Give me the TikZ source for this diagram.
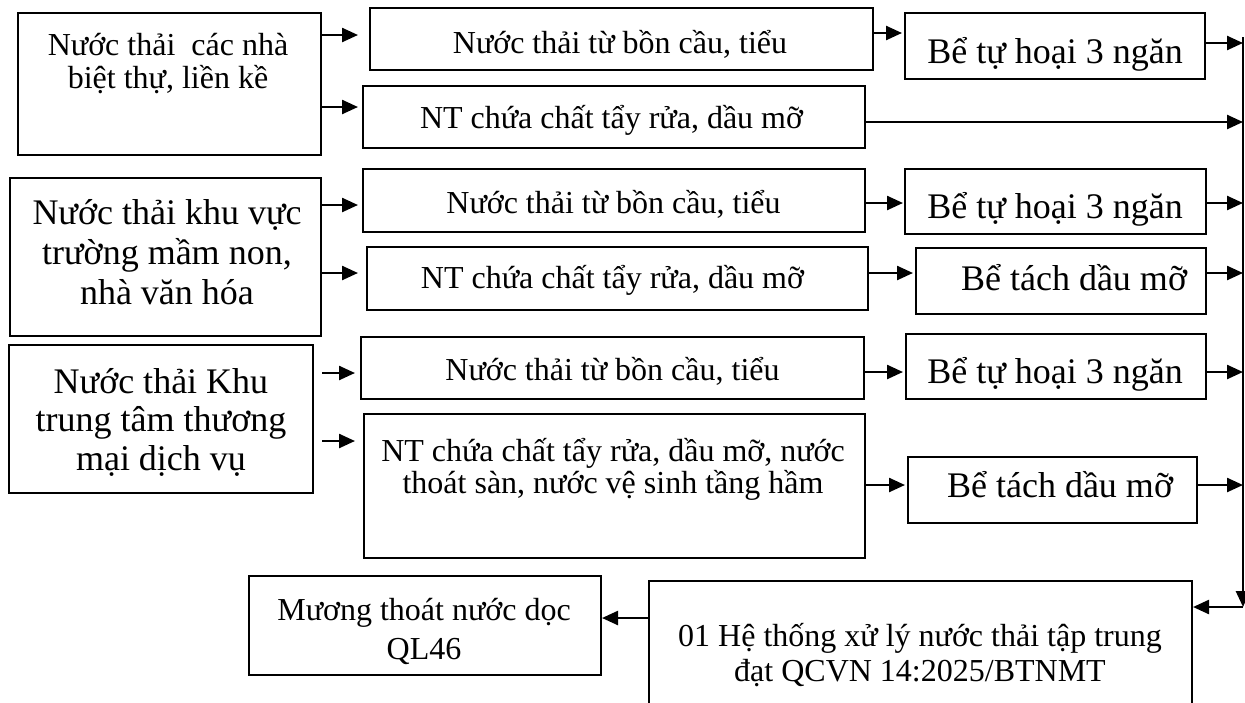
\documentclass[tikz,border=0pt]{standalone}
\usepackage{fontspec}
\setmainfont{Liberation Serif}
\usetikzlibrary{arrows.meta}
\newcommand\fsz[2]{\fontsize{#1}{#2}\selectfont}
\begin{document}
\begin{tikzpicture}[x=0.5pt,y=-0.5pt,
  box/.style={draw, line width=1pt, inner sep=0pt, anchor=north west},
  txt/.style={inner sep=0pt, align=center, anchor=base},
  small/.style={font=\fsz{16}{16.5}},
  big/.style={font=\fsz{18}{20}},
  arr/.style={line width=1.2pt, -{Triangle[length=8pt,width=7pt]}},
  vline/.style={line width=1.4pt}]
\useasboundingbox (0,0) rectangle (1245,702);
% boxes
\node[box, minimum width=151.5pt, minimum height=71pt] (A1) at (17,12) {};
\node[box, minimum width=251.5pt, minimum height=31pt] (B1) at (369,7) {};
\node[box, minimum width=150pt, minimum height=33pt] (T1) at (904,12) {};
\node[box, minimum width=251pt, minimum height=31pt] (B2) at (362,85) {};
\node[box, minimum width=155.5pt, minimum height=79pt] (A2) at (9,177) {};
\node[box, minimum width=251pt, minimum height=31.5pt] (B3) at (362,168) {};
\node[box, minimum width=250.5pt, minimum height=31.5pt] (B4) at (366,246) {};
\node[box, minimum width=150.5pt, minimum height=32.5pt] (T2) at (904,168) {};
\node[box, minimum width=145pt, minimum height=33pt] (S1) at (915,247) {};
\node[box, minimum width=152pt, minimum height=74pt] (A3) at (8,344) {};
\node[box, minimum width=251.5pt, minimum height=31pt] (B5) at (360,336) {};
\node[box, minimum width=250.5pt, minimum height=72pt] (B6) at (363,413) {};
\node[box, minimum width=150pt, minimum height=32.5pt] (T3) at (905,333) {};
\node[box, minimum width=144.5pt, minimum height=33pt] (S2) at (907,456) {};
\node[box, minimum width=176pt, minimum height=49.5pt] (M) at (248,575) {};
\node[box, minimum width=271.5pt, minimum height=75pt] (H) at (648,580) {};
% texts (anchor base = baseline of the last line)
\node[txt, small] (A1t) at (168,88) {Nước thải~ các nhà\\biệt thự, liền kề};
\node[txt, small] (B1t) at (620,53) {Nước thải từ bồn cầu, tiểu};
\node[txt, big] (T1t) at (1055,63) {Bể tự hoại 3 ngăn};
\node[txt, small] (B2t) at (611.5,128) {NT chứa chất tẩy rửa, dầu mỡ};
\node[txt, font=\fsz{18}{20}] (A2t) at (167,304) {Nước thải khu vực\\trường mầm non,\\nhà văn hóa};
\node[txt, small] (B3t) at (613.5,213) {Nước thải từ bồn cầu, tiểu};
\node[txt, small] (B4t) at (612.5,288) {NT chứa chất tẩy rửa, dầu mỡ};
\node[txt, big] (T2t) at (1055,218) {Bể tự hoại 3 ngăn};
\node[txt, big] (S1t) at (1074,290) {Bể tách dầu mỡ};
\node[txt, font=\fsz{18}{19.25}] (A3t) at (161,470) {Nước thải Khu\\trung tâm thương\\mại dịch vụ};
\node[txt, small] (B5t) at (612.5,380) {Nước thải từ bồn cầu, tiểu};
\node[txt, font=\fsz{16}{16}] (B6t) at (613,493) {NT chứa chất tẩy rửa, dầu mỡ, nước\\thoát sàn, nước vệ sinh tầng hầm};
\node[txt, big] (T3t) at (1055,383) {Bể tự hoại 3 ngăn};
\node[txt, big] (S2t) at (1060,497) {Bể tách dầu mỡ};
\node[txt, font=\fsz{16}{19.5}] (Mt) at (424,659) {Mương thoát nước dọc\\QL46};
\node[txt, font=\fsz{16}{17.5}] (Ht) at (920,681) {01 Hệ thống xử lý nước thải tập trung\\đạt QCVN 14:2025/BTNMT};
% collector line
\coordinate (vtop) at (1243,37);
\coordinate (vbot) at (1243,607);
\draw[vline, -{Triangle[length=8pt,width=7pt]}] (vtop) -- (vbot);
% arrows
\draw[arr, shorten >=5.5pt] (A1.east |- 0,35) -- (B1.west |- 0,35);
\draw[arr, shorten >=2pt] (A1.east |- 0,107) -- (B2.west |- 0,107);
\draw[arr, shorten >=1pt] (B1.east |- 0,33) -- (T1.west |- 0,33);
\draw[arr] (T1.east |- 0,43) -- (vtop |- 0,43);
\draw[arr] (B2.east |- 0,122) -- (vtop |- 0,122);
\draw[arr, shorten >=2pt] (A2.east |- 0,205) -- (B3.west |- 0,205);
\draw[arr, shorten >=4pt] (A2.east |- 0,273) -- (B4.west |- 0,273);
\draw[arr, shorten >=0.5pt] (B3.east |- 0,203) -- (T2.west |- 0,203);
\draw[arr, shorten >=1pt] (B4.east |- 0,273) -- (S1.west |- 0,273);
\draw[arr] (T2.east |- 0,203) -- (vtop |- 0,203);
\draw[arr] (S1.east |- 0,273) -- (vtop |- 0,273);
\draw[arr, shorten <=4pt, shorten >=2.5pt] (A3.east |- 0,373) -- (B5.west |- 0,373);
\draw[arr, shorten <=4pt, shorten >=4pt] (A3.east |- 0,441) -- (B6.west |- 0,441);
\draw[arr, shorten >=1pt] (B5.east |- 0,372) -- (T3.west |- 0,372);
\draw[arr, shorten >=1pt] (B6.east |- 0,485) -- (S2.west |- 0,485);
\draw[arr] (T3.east |- 0,372) -- (vtop |- 0,372);
\draw[arr] (S2.east |- 0,485) -- (vtop |- 0,485);
\draw[arr] (vbot) -- (H.east |- vbot);
\draw[arr] (H.west |- 0,618) -- (M.east |- 0,618);
\end{tikzpicture}
\end{document}
